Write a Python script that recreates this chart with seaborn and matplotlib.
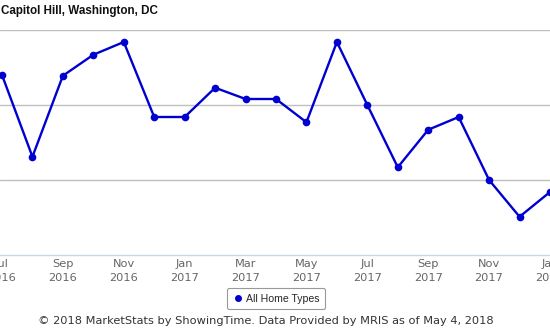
import matplotlib
matplotlib.use("Agg")
import matplotlib.pyplot as plt
from matplotlib.lines import Line2D
import seaborn as sns
import pandas as pd

months = ["Jul 2016", "Aug 2016", "Sep 2016", "Oct 2016", "Nov 2016", "Dec 2016",
          "Jan 2017", "Feb 2017", "Mar 2017", "Apr 2017", "May 2017", "Jun 2017",
          "Jul 2017", "Aug 2017", "Sep 2017", "Oct 2017", "Nov 2017", "Dec 2017",
          "Jan 2018"]
values = [2.40, 1.31, 2.39, 2.67, 2.84, 1.84, 1.84, 2.23, 2.08, 2.08, 1.77, 2.84,
          2.00, 1.17, 1.67, 1.84, 1.00, 0.51, 0.84]
tick_labels = ["Jul\n2016", "Sep\n2016", "Nov\n2016", "Jan\n2017", "Mar\n2017",
               "May\n2017", "Jul\n2017", "Sep\n2017", "Nov\n2017", "Jan\n2018"]
series_name = "All Home Types"
title = "Capitol Hill, Washington, DC"
footer = "\u00a9 2018 MarketStats by ShowingTime. Data Provided by MRIS as of May 4, 2018"

df = pd.DataFrame({"idx": range(len(months)), "month": months, "value": values})

sns.set_style("white")
plt.rcParams["font.family"] = ["DejaVu Sans"]

W, H = 550, 330
fig = plt.figure(figsize=(W / 100, H / 100), dpi=100)
ax = fig.add_axes([0, 75 / H, 1, 225 / H])

blue = "#0000d0"
sns.lineplot(data=df, x="idx", y="value", ax=ax, color=blue, linewidth=1.7,
             marker="o", markersize=5.5, markeredgewidth=0, label=series_name)

px_per_month = (550 - 2) / 18
ax.set_xlim(-2 / px_per_month, 18)
ax.set_ylim(0, 3)
ax.set_yticks([1, 2, 3])
ax.set_yticklabels([])
ax.yaxis.grid(True, color="#c0c0c0", linewidth=1)
ax.xaxis.grid(False)
ax.set_xticks(list(range(0, 19, 2)))
ax.set_xticklabels(tick_labels, color="#666666", fontsize=8.2, linespacing=1.45)
ax.tick_params(axis="x", length=0, pad=3)
ax.tick_params(axis="y", length=0)
ax.set_xlabel("")
ax.set_ylabel("")
for s in ["left", "right", "top"]:
    ax.spines[s].set_visible(False)
ax.spines["bottom"].set_color("#ccd6eb")
ax.spines["bottom"].set_linewidth(1)

handle = Line2D([], [], marker="o", linestyle="", color=blue, markersize=4)
leg = ax.legend(handles=[handle], labels=[series_name], loc="center",
                bbox_to_anchor=(276 / W, 1 - 298.5 / H), bbox_transform=fig.transFigure,
                frameon=True, fancybox=True, edgecolor="#999999", framealpha=1,
                prop={"family": "Liberation Sans", "size": 7.6},
                handletextpad=0.2, handlelength=1.0, borderpad=0.55, borderaxespad=0)
leg.get_frame().set_linewidth(0.8)

fig.text(1 / W, 1 - 11 / H, title, ha="left", va="center", fontsize=8.4,
         fontweight="bold", family="Liberation Sans", color="#111111")
fig.text(265.5 / W, 1 - 321 / H, footer, ha="center", va="center", fontsize=8.2,
         color="#333333", family="DejaVu Sans")

fig.savefig("out.png", dpi=100)
